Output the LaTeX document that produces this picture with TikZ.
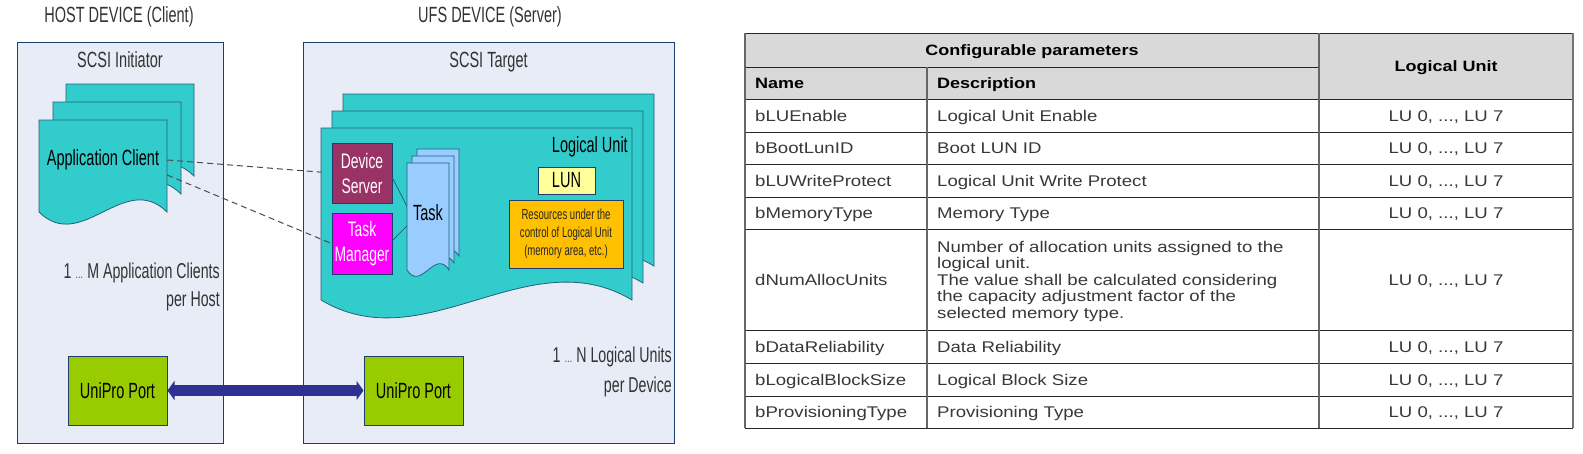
\documentclass[tikz,border=0pt]{standalone}
\usepackage{fontspec}
\setmainfont{Liberation Sans}
\newfontfamily\narrowfont[FakeStretch=0.66]{Liberation Sans}
\newfontfamily\tabfont[FakeStretch=1.2]{Liberation Sans}
\usetikzlibrary{arrows.meta, positioning}

\definecolor{boxfill}{HTML}{E7ECF6}
\definecolor{boxline}{HTML}{1F3C6E}
\definecolor{lucyan}{HTML}{33CCCC}
\definecolor{sheetline}{HTML}{24607A}
\definecolor{unigreen}{HTML}{99CC00}
\definecolor{srvred}{HTML}{993366}
\definecolor{mgrpink}{HTML}{FF00FF}
\definecolor{taskblue}{HTML}{99CCFF}
\definecolor{lunyellow}{HTML}{FFFF99}
\definecolor{resorange}{HTML}{FFC000}
\definecolor{linkblue}{HTML}{2E3192}
\definecolor{headgray}{HTML}{D9D9D9}

% sheet with a wavy lower edge: style, left, top, width, height, wave
\newcommand{\docsheet}[6]{%
  \draw[#1] (#2,#3) -- ({#2+#4},#3) -- ({#2+#4},{#3+#5})
    .. controls ({#2+2*#4/3},{#3+#5-#6}) and ({#2+#4/3},{#3+#5+#6}) .. (#2,{#3+#5}) -- cycle;}
\newcommand{\smalldots}{{\fontsize{12}{12}\selectfont…}}

\begin{document}
\begin{tikzpicture}[x=1pt, y=-1pt,
    devbox/.style={draw=boxline, fill=boxfill, line width=0.8pt},
    title/.style={font=\narrowfont\fontsize{22}{26}\selectfont, text=black!80, inner sep=0pt},
    appsheet/.style={draw=sheetline, fill=lucyan, line width=0.8pt},
    tasksheet/.style={draw=sheetline, fill=taskblue, line width=0.8pt},
    unit/.style={draw=boxline, line width=1pt, inner sep=0pt, align=center, font=\narrowfont\fontsize{21}{25}\selectfont},
    port/.style={unit, fill=unigreen, minimum width=99pt, minimum height=69pt, font=\narrowfont\fontsize{22}{26}\selectfont},
    dashlink/.style={draw=black!70, line width=1pt, dash pattern=on 6pt off 4pt},
    gridline/.style={draw=black!85, line width=0.9pt},
    thead/.style={font=\tabfont\bfseries\fontsize{15}{18}\selectfont, inner sep=0pt, text height=11pt, text depth=0pt},
    tcell/.style={font=\tabfont\fontsize{15.5}{16.5}\selectfont, text=black!78, inner sep=0pt, text height=11pt, text depth=0pt}
]
\fill[white] (0,0) rectangle (1583,453);

% Host / UFS device boxes
\node[devbox, minimum width=206pt, minimum height=401pt] (host) at (120,242.5) {};
\node[devbox, minimum width=371pt, minimum height=401pt] (ufs) at (488.5,242.5) {};
\node[title] (hosttitle) at (119,17) {HOST DEVICE (Client)};
\node[title] (ufstitle) at (490,17) {UFS DEVICE (Server)};
\node[title, below=10pt of host.north] (init) {SCSI Initiator};
\node[title, below=10pt of ufs.north] (target) {SCSI Target};

% Application clients
\foreach \lx/\ty in {66/84, 53/102, 39/120} {\docsheet{appsheet}{\lx}{\ty}{128}{92}{42}}
\node[title, text=black, minimum width=128pt] (appc) at (103,160) {Application Client};
\node[title, align=right, anchor=east, font=\narrowfont\fontsize{21.5}{28}\selectfont] (mclients) at (220,287) {1 \smalldots\ M Application Clients\\per Host};

% Logical units
\foreach \lx/\ty in {343/94, 332/111, 321/128} {\docsheet{appsheet}{\lx}{\ty}{311}{172}{62}}
\node[title, text=black, anchor=east] (lulabel) at (628,147) {Logical Unit};
\node[unit, fill=srvred, text=white, minimum width=60pt, minimum height=60pt] (dsrv) at (362,173) {Device\\Server};
\node[unit, fill=mgrpink, text=white, minimum width=60pt, minimum height=61pt] (tmgr) at (362,243.5) {Task\\Manager};
\foreach \lx/\ty in {417/149, 412/156, 407/163} {\docsheet{tasksheet}{\lx}{\ty}{42}{107}{22}}
\node[title, text=black, minimum width=42pt] (task) at (428,213) {Task};
\node[unit, fill=lunyellow, minimum width=57pt, minimum height=27pt, font=\narrowfont\fontsize{22}{26}\selectfont] (lun) at (566.5,180.5) {LUN};
\node[unit, fill=resorange, text=black!85, minimum width=114pt, minimum height=68pt, font=\narrowfont\fontsize{14.5}{18}\selectfont] (res) at (566,234) {Resources under the\\control of Logical Unit\\(memory area, etc.)};
\node[title, align=right, anchor=east, font=\narrowfont\fontsize{21.5}{30}\selectfont] (nunits) at (672,372) {1 \smalldots\ N Logical Units\\per Device};

\draw[sheetline, line width=0.8pt] ([yshift=-5pt]dsrv.east) -- ([yshift=7pt]task.west);
\draw[sheetline, line width=0.8pt] ([yshift=3pt]tmgr.east) -- ([yshift=-13pt]task.west);
\draw[dashlink, shorten >=10pt] (appc.east) -- (dsrv.west);
\draw[dashlink] ([yshift=-15pt]appc.east) -- (tmgr.west);

% UniPro link
\node[port] (unil) at (117.5,390.5) {UniPro Port};
\node[port] (unir) at (413.5,390.5) {UniPro Port};
\draw[linkblue, line width=11pt, {Triangle[length=7pt,width=19pt]}-{Triangle[length=7pt,width=19pt]}] (unil.east) -- (unir.west);

% Parameter table
\fill[headgray] (745,33) rectangle (1573,99);
\draw[gridline] (745,33) -- (1573,33);
\draw[gridline] (745,67) -- (1319,67);
\foreach \yy in {99,132,164,197,229,330,363,396,428} {\draw[gridline] (745,\yy) -- (1573,\yy);}
\draw[gridline, draw=black!60, line width=1.3pt] (745,33) -- (745,428);
\draw[gridline, draw=black!60, line width=1.3pt] (927,67) -- (927,428);
\draw[gridline, draw=black!60, line width=1.3pt] (1319,33) -- (1319,428);
\draw[gridline, draw=black!55, line width=2pt] (1573,33) -- (1573,428);

\node[thead] (hconf) at (1032,50) {Configurable parameters};
\node[thead, anchor=west] (hname) at (755,83) {Name};
\node[thead, anchor=west] (hdesc) at (937,83) {Description};
\node[thead] (hlu) at (1446,66) {Logical Unit};

\foreach \nm/\ds/\yy [count=\i] in {bLUEnable/Logical Unit Enable/115.5, bBootLunID/Boot LUN ID/148,
    bLUWriteProtect/Logical Unit Write Protect/180.5, bMemoryType/Memory Type/213,
    bDataReliability/Data Reliability/346.5, bLogicalBlockSize/Logical Block Size/379.5,
    bProvisioningType/Provisioning Type/412} {
  \node[tcell, anchor=west] (name\i) at (755,\yy) {\nm};
  \node[tcell, anchor=west] (desc\i) at (937,\yy) {\ds};
  \node[tcell] (lu\i) at (1446,\yy) {LU 0, ..., LU 7};
}
\node[tcell, anchor=west] (numname) at (755,279.5) {dNumAllocUnits};
\node[tcell, anchor=west, align=left, text height=, text depth=] (numdesc) at (937,281) {Number of allocation units assigned to the\\logical unit.\\The value shall be calculated considering\\the capacity adjustment factor of the\\selected memory type.};
\node[tcell] (numlu) at (1446,279.5) {LU 0, ..., LU 7};

\end{tikzpicture}
\end{document}
